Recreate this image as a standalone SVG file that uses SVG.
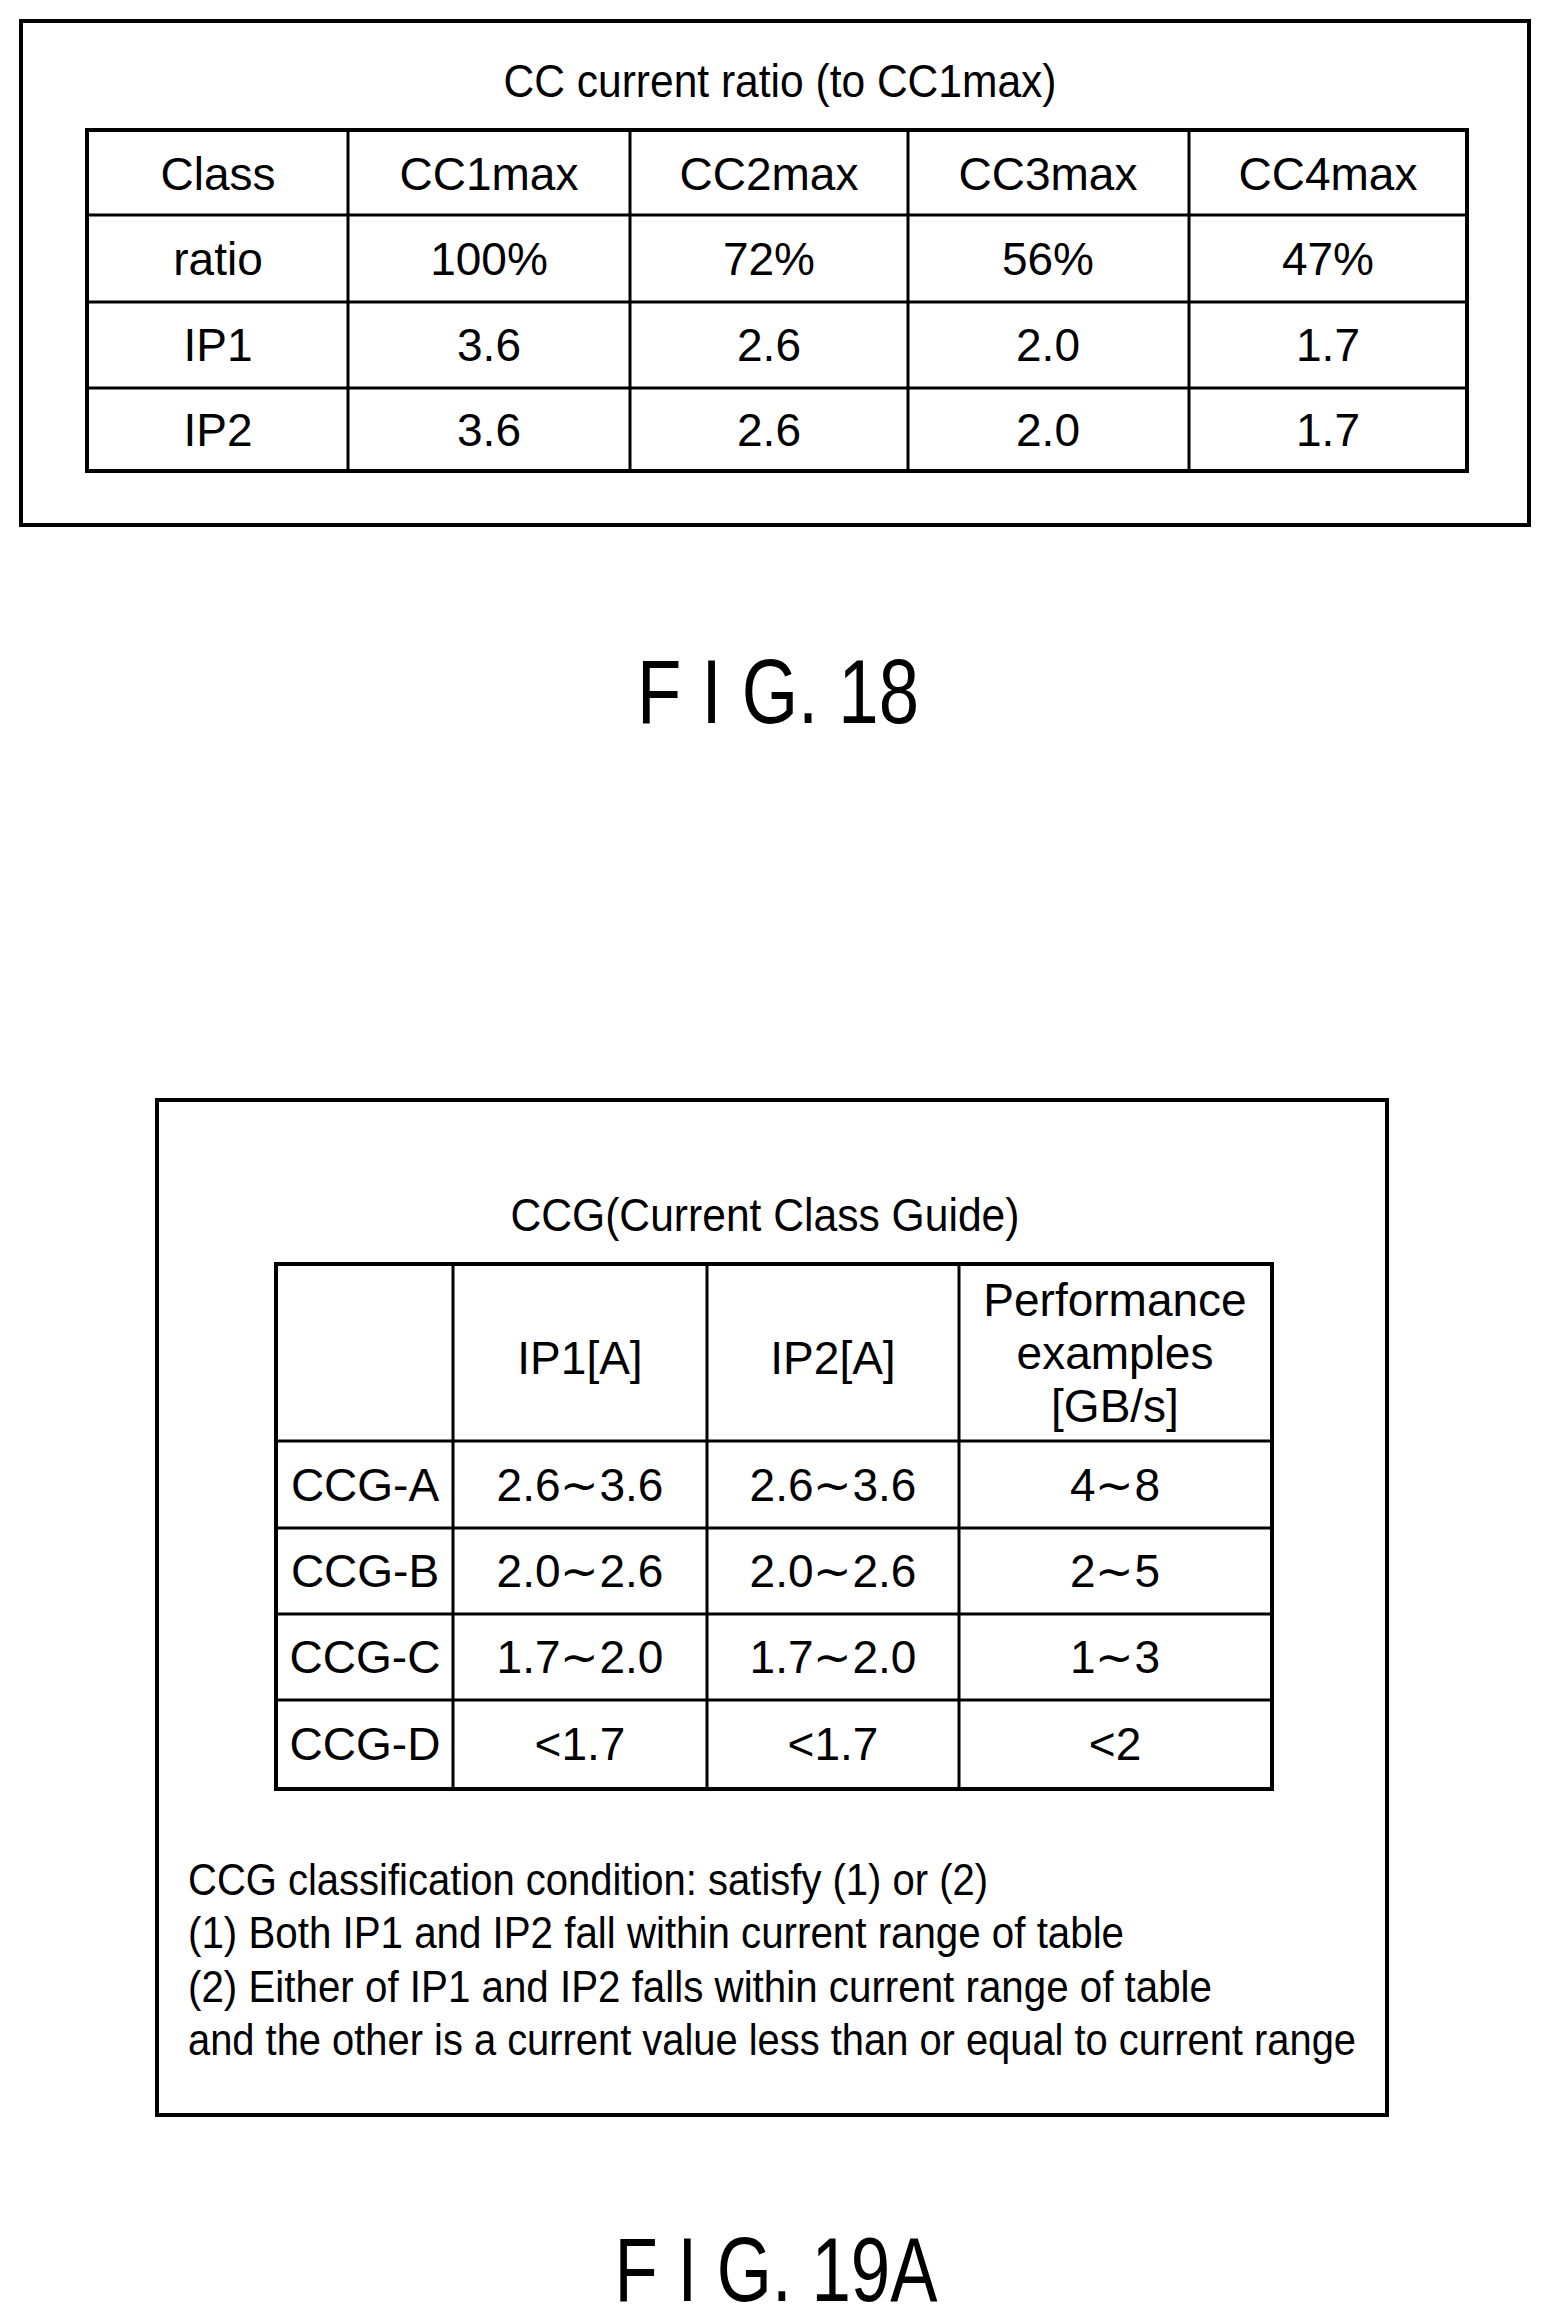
<svg xmlns="http://www.w3.org/2000/svg" width="1550" height="2318" viewBox="0 0 1550 2318">
<style>
text{font-family:"Liberation Sans",Arial,sans-serif;fill:#000}
.c{font-size:46px;text-anchor:middle;dominant-baseline:central}
.n{font-size:44px;dominant-baseline:central}
.f{font-size:90px;text-anchor:middle;dominant-baseline:central}
.b{fill:none;stroke:#000;stroke-width:4}
.l{stroke:#000;stroke-width:3}
</style>
<rect width="1550" height="2318" fill="#fff"/>
<g id="fig18">
<rect class="b" x="21" y="21" width="1508" height="504"/>
<text class="c" x="780" y="81" textLength="553" lengthAdjust="spacingAndGlyphs">CC current ratio (to CC1max)</text>
<rect class="b" x="87" y="130" width="1380" height="341"/>
<g class="l"><line x1="348" y1="130" x2="348" y2="471"/><line x1="630" y1="130" x2="630" y2="471"/><line x1="908" y1="130" x2="908" y2="471"/><line x1="1189" y1="130" x2="1189" y2="471"/>
<line x1="87" y1="215" x2="1467" y2="215"/><line x1="87" y1="302" x2="1467" y2="302"/><line x1="87" y1="388" x2="1467" y2="388"/></g>
<text class="c" x="218" y="174">Class</text><text class="c" x="489" y="174">CC1max</text><text class="c" x="769" y="174">CC2max</text><text class="c" x="1048" y="174">CC3max</text><text class="c" x="1328" y="174">CC4max</text>
<text class="c" x="218" y="259">ratio</text><text class="c" x="489" y="259">100%</text><text class="c" x="769" y="259">72%</text><text class="c" x="1048" y="259">56%</text><text class="c" x="1328" y="259">47%</text>
<text class="c" x="218" y="345">IP1</text><text class="c" x="489" y="345">3.6</text><text class="c" x="769" y="345">2.6</text><text class="c" x="1048" y="345">2.0</text><text class="c" x="1328" y="345">1.7</text>
<text class="c" x="218" y="430">IP2</text><text class="c" x="489" y="430">3.6</text><text class="c" x="769" y="430">2.6</text><text class="c" x="1048" y="430">2.0</text><text class="c" x="1328" y="430">1.7</text>
<text class="f" x="778" y="692" textLength="282" lengthAdjust="spacingAndGlyphs">F I G. 18</text>
</g>
<g id="fig19a">
<rect class="b" x="157" y="1100" width="1230" height="1015"/>
<text class="c" x="765" y="1215" textLength="509" lengthAdjust="spacingAndGlyphs">CCG(Current Class Guide)</text>
<rect class="b" x="276" y="1264" width="996" height="525"/>
<g class="l"><line x1="453" y1="1264" x2="453" y2="1789"/><line x1="707" y1="1264" x2="707" y2="1789"/><line x1="959" y1="1264" x2="959" y2="1789"/>
<line x1="276" y1="1441" x2="1272" y2="1441"/><line x1="276" y1="1528" x2="1272" y2="1528"/><line x1="276" y1="1614" x2="1272" y2="1614"/><line x1="276" y1="1700" x2="1272" y2="1700"/></g>
<text class="c" x="580" y="1358">IP1[A]</text><text class="c" x="833" y="1358">IP2[A]</text>
<text class="c" x="1115" y="1300">Performance</text><text class="c" x="1115" y="1353">examples</text><text class="c" x="1115" y="1406">[GB/s]</text>
<text class="c" x="365" y="1485">CCG-A</text><text class="c" x="580" y="1485">2.6∼3.6</text><text class="c" x="833" y="1485">2.6∼3.6</text><text class="c" x="1115" y="1485">4∼8</text>
<text class="c" x="365" y="1571">CCG-B</text><text class="c" x="580" y="1571">2.0∼2.6</text><text class="c" x="833" y="1571">2.0∼2.6</text><text class="c" x="1115" y="1571">2∼5</text>
<text class="c" x="365" y="1657">CCG-C</text><text class="c" x="580" y="1657">1.7∼2.0</text><text class="c" x="833" y="1657">1.7∼2.0</text><text class="c" x="1115" y="1657">1∼3</text>
<text class="c" x="365" y="1744">CCG-D</text><text class="c" x="580" y="1744">&lt;1.7</text><text class="c" x="833" y="1744">&lt;1.7</text><text class="c" x="1115" y="1744">&lt;2</text>
<text class="n" x="188" y="1879" textLength="800" lengthAdjust="spacingAndGlyphs">CCG classification condition: satisfy (1) or (2)</text>
<text class="n" x="188" y="1932" textLength="936" lengthAdjust="spacingAndGlyphs">(1) Both IP1 and IP2 fall within current range of table</text>
<text class="n" x="188" y="1986" textLength="1024" lengthAdjust="spacingAndGlyphs">(2) Either of IP1 and IP2 falls within current range of table</text>
<text class="n" x="188" y="2039" textLength="1168" lengthAdjust="spacingAndGlyphs">and the other is a current value less than or equal to current range</text>
<text class="f" x="776" y="2270" textLength="323" lengthAdjust="spacingAndGlyphs">F I G. 19A</text>
</g>
</svg>
